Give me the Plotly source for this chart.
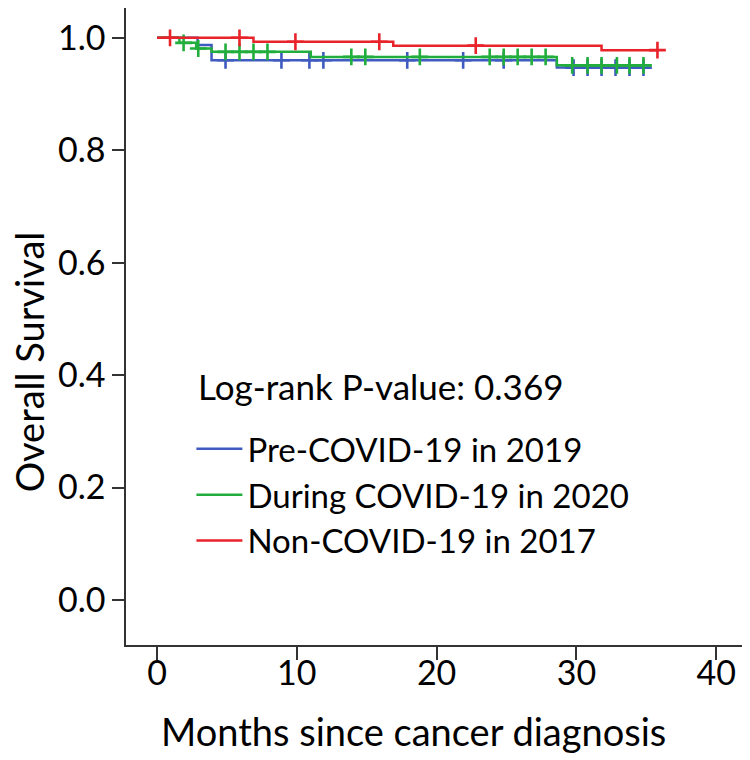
import numpy as np
import plotly.graph_objects as go

# ---- data ----
series_names = ["Pre-COVID-19 in 2019", "During COVID-19 in 2020", "Non-COVID-19 in 2017"]

blue_event_t = [2.9, 3.9, 28.6]
blue_surv = [0.987, 0.960, 0.947]
blue_censor_t = [4.9, 8.9, 10.9, 11.9, 17.9, 21.9, 24.8, 29.8, 30.8, 31.8, 32.8, 33.8, 34.8]
blue_end = 34.8

green_event_t = [1.6, 2.8, 3.9, 11.0, 28.6]
green_surv = [0.991, 0.981, 0.975, 0.966, 0.951]
green_censor_t = [1.9, 2.95, 4.9, 5.9, 6.9, 7.9, 13.9, 14.9, 18.8, 23.8, 24.8, 25.8,
                  26.8, 27.8, 29.7, 30.8, 31.8, 32.9, 33.8, 34.8]
green_end = 34.8

red_event_t = [6.9, 16.9, 31.8]
red_surv = [0.993, 0.986, 0.978]
red_censor_t = [0.93, 5.9, 9.9, 15.9, 22.8, 35.8]
red_end = 35.8

p_value_text = "Log-rank P-value: 0.369"
x_title = "Months since cancer diagnosis"
y_title = "Overall Survival"
x_ticks = [0, 10, 20, 30, 40]
y_ticks = [0.0, 0.2, 0.4, 0.6, 0.8, 1.0]

colors = ["#3F5BC0", "#22AE3C", "#E8232A"]

FONT = "Lato"


def step_xy(ev_t, surv, end):
    xs = [0.0] + list(ev_t) + [end]
    ys = [1.0] + list(surv) + [surv[-1]]
    return xs, ys


def surv_at(ev_t, surv, t):
    ev = np.asarray(ev_t)
    s = np.asarray([1.0] + list(surv))
    idx = np.searchsorted(ev, np.asarray(t), side="right")
    return s[idx]


fig = go.Figure()
groups = [
    (blue_event_t, blue_surv, blue_censor_t, blue_end),
    (green_event_t, green_surv, green_censor_t, green_end),
    (red_event_t, red_surv, red_censor_t, red_end),
]
for name, col, (ev, sv, ce, end) in zip(series_names, colors, groups):
    xs, ys = step_xy(ev, sv, end)
    fig.add_trace(go.Scatter(x=xs, y=ys, mode="lines", line=dict(color=col, width=2.5, shape="hv"),
                             name=name, showlegend=True))
    fig.add_trace(go.Scatter(x=ce, y=surv_at(ev, sv, ce), mode="markers",
                             marker=dict(symbol="cross-thin", size=12, line=dict(color=col, width=2.6)),
                             showlegend=False, hoverinfo="skip"))

fig.add_annotation(x=0.113, y=0.407, xref="paper", yref="paper", text=p_value_text,
                   showarrow=False, xanchor="left", yanchor="middle",
                   font=dict(family=FONT, size=35, color="black"))
# axis titles (placed as in the reference, off-centre)
fig.add_annotation(x=0.466, y=-0.135, xref="paper", yref="paper", text=x_title,
                   showarrow=False, xanchor="center", yanchor="middle",
                   font=dict(family=FONT, size=38, color="black"))
fig.add_annotation(x=-0.157, y=0.444, xref="paper", yref="paper", text=y_title,
                   showarrow=False, xanchor="center", yanchor="middle", textangle=-90,
                   font=dict(family=FONT, size=38, color="black"))

axis_common = dict(showline=True, linecolor="#333333", linewidth=1.5, mirror=True,
                   showgrid=False, zeroline=False, ticks="outside", tickcolor="#333333",
                   tickwidth=1.5, automargin=False)

fig.update_xaxes(range=[-2.22, 41.92], tickvals=x_ticks, ticklen=13,
                 tickfont=dict(family=FONT, size=34, color="black"),
                 ticklabelstandoff=-16,
                 **axis_common)
fig.update_yaxes(range=[-0.080, 1.053], tickvals=y_ticks, tickformat=".1f", ticklen=12,
                 tickfont=dict(family=FONT, size=34, color="black"),
                 **axis_common)

# the page adds an 8px body margin, so the figure is sized/offset to compensate
fig.update_layout(
    width=742, height=752,
    margin=dict(l=118, r=7, t=0, b=115),
    paper_bgcolor="white", plot_bgcolor="white",
    legend=dict(x=0.106, y=0.352, xanchor="left", yanchor="top",
                font=dict(family=FONT, size=33, color="black"),
                bgcolor="rgba(0,0,0,0)", itemwidth=46, tracegroupgap=0),
)

fig.write_html("out.html")
